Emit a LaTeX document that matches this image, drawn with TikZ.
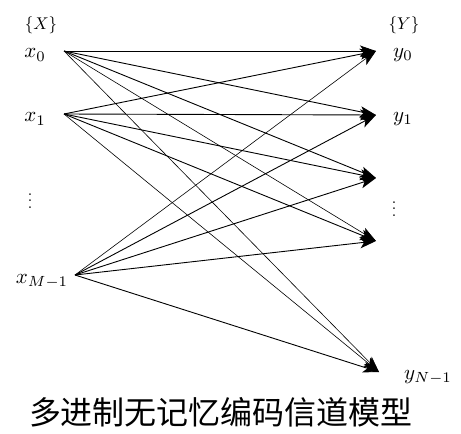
\documentclass[tikz,border=0pt]{standalone}
\usepackage{fontspec}
\newfontfamily\cjk{Noto Sans CJK SC}
\usetikzlibrary{arrows.meta}
\begin{document}
\begin{tikzpicture}[x=1pt,y=-1pt,
  lbl/.style={inner sep=0pt,scale=2.1},
  brace/.style={inner sep=0pt,scale=1.7},
  dots/.style={inner sep=0pt,scale=1.6},
  edge/.style={line width=0.9pt,-{Stealth[length=16pt,width=11pt,inset=4pt]}},
  thinedge/.style={edge,line width=0.6pt}]
\useasboundingbox (0,0) rectangle (461,434);
% sources
\coordinate (s0) at (64,51);
\coordinate (s1) at (64,114);
\coordinate (s2) at (75,275);
% targets
\coordinate (t0) at (376,51);
\coordinate (t1) at (376,115);
\coordinate (t2) at (376,178);
\coordinate (t3) at (376,241);
\coordinate (t4) at (379,372);
% labels
\node[brace] (X) at (41,25) {$\{X\}$};
\node[lbl] (lx0) at (35,55) {$x_{0}$};
\node[lbl] (lx1) at (35,119) {$x_{1}$};
\node[dots] (ldl) at (30,196) {$\vdots$};
\node[lbl] (lx2) at (42,281) {$x_{M-1}$};
\node[brace] (Y) at (404,25) {$\{Y\}$};
\node[lbl] (ly0) at (403,55) {$y_{0}$};
\node[lbl] (ly1) at (403,119) {$y_{1}$};
\node[dots] (ldr) at (394,204) {$\vdots$};
\node[lbl] (ly4) at (428,377) {$y_{N-1}$};
% edges
\draw[edge] (s0) -- (t0);
\draw[edge] (s0) -- (t1);
\draw[edge] (s0) -- (t2);
\draw[thinedge] (s0) -- (t3);
\draw[thinedge] (s0) -- (t4);
\draw[edge] (s1) -- (t0);
\draw[edge] (s1) -- (t1);
\draw[edge] (s1) -- (t2);
\draw[edge] (s1) -- (t3);
\draw[thinedge] (s1) -- (t4);
\draw[thinedge] (s2) -- (t0);
\draw[edge] (s2) -- (t1);
\draw[edge] (s2) -- (t2);
\draw[edge] (s2) -- (t3);
\draw[edge] (s2) -- (t4);
% caption
\node[inner sep=0pt,font=\cjk\fontsize{32}{36}\selectfont] (cap) at (221,412) {多进制无记忆编码信道模型};
\end{tikzpicture}
\end{document}
